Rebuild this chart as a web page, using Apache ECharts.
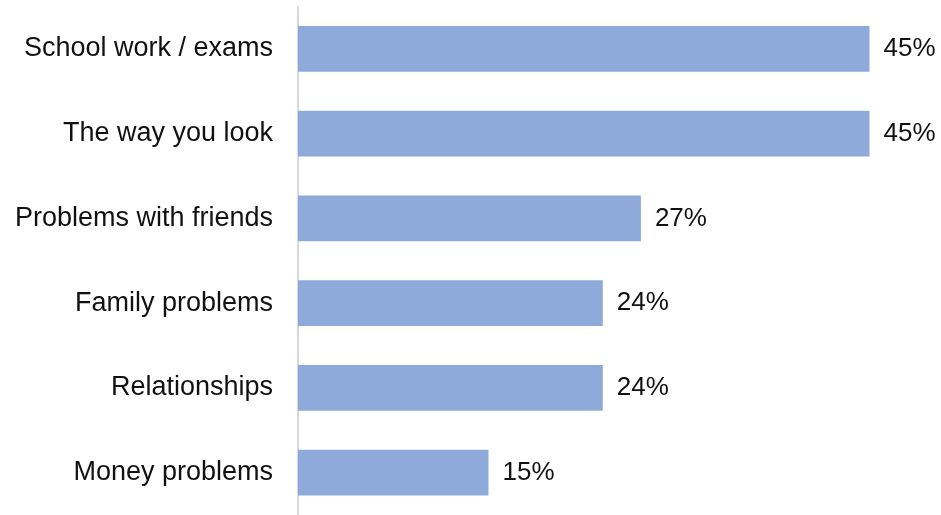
<!DOCTYPE html>
<html><head><meta charset="utf-8">
<script src="https://cdn.jsdelivr.net/npm/echarts@6/dist/echarts.min.js"></script>
<style>html,body{margin:0;padding:0;background:#fff}#c{width:941px;height:515px}</style>
</head><body><div id="c"></div>
<script>
const categories = ["School work / exams","The way you look","Problems with friends","Family problems","Relationships","Money problems"];
const values = [45,45,27,24,24,15];

const chart = echarts.init(document.getElementById('c'));
chart.setOption({
  animation:false,
  grid:{left:298,top:6.5,width:635,height:512},
  xAxis:{type:'value',min:0,max:50,show:false},
  yAxis:{type:'category',data:categories,inverse:true,
    axisLine:{show:true,lineStyle:{color:'#d9d9d9',width:2}},
    axisTick:{show:false},
    axisLabel:{fontFamily:'Liberation Sans, Arial, sans-serif',fontSize:27,color:'#111111',margin:25}},
  series:[{type:'bar',data:values,barWidth:'54%',
    itemStyle:{color:'#8eaadb'},
    label:{show:true,position:'right',distance:14,formatter:'{c}%',
      fontFamily:'Liberation Sans, Arial, sans-serif',fontSize:26,color:'#111111'}}]
});
</script></body></html>
